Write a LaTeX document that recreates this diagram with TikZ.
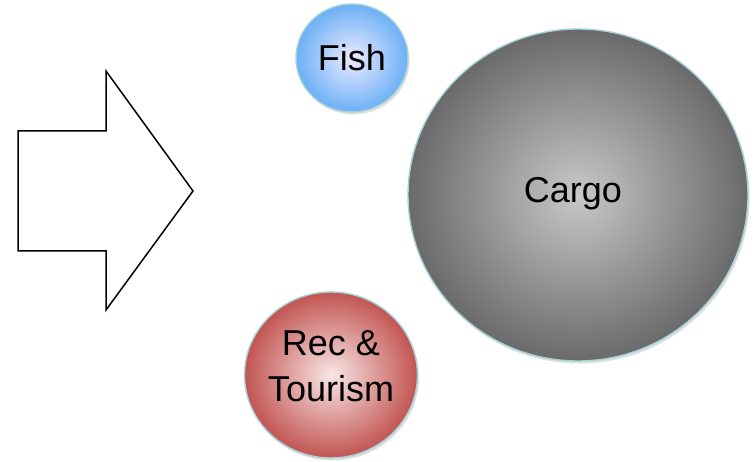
\documentclass[tikz,border=0pt]{standalone}
\usepackage{fontspec}
\setmainfont{Liberation Sans}
\usetikzlibrary{shapes.geometric,shadows}
\definecolor{rimcol}{HTML}{A6D3DA}
\definecolor{fishin}{HTML}{ECEAFF}
\definecolor{fishout}{HTML}{6CB0F6}
\definecolor{cargoin}{HTML}{C8C8C8}
\definecolor{cargoout}{HTML}{6A6A6A}
\definecolor{recin}{HTML}{F8E6E6}
\definecolor{recout}{HTML}{C25552}
\tikzset{
  bubble/.style={ellipse, draw=rimcol, line width=1.4pt, inner sep=0pt,
    drop shadow={opacity=0.25, shadow xshift=1.5pt, shadow yshift=-2.5pt}},
  bubtext/.style={font=\fontsize{36}{46}\selectfont, text=black, align=center, inner sep=0pt},
  bigarrow/.style={draw=black, line width=1.5pt, fill=white, line join=miter}
}
\begin{document}
\begin{tikzpicture}[x=1pt,y=1pt]
\useasboundingbox (0,0) rectangle (755,462);
% block arrow
\draw[bigarrow] (18,331) -- (106,331) -- (106,391) -- (193,271) -- (106,152) -- (106,211) -- (18,211) -- cycle;
% bubbles
\node[bubble, minimum width=112pt, minimum height=108pt, inner color=fishin, outer color=fishout] (fish) at (352,404) {};
\node[bubble, minimum width=340pt, minimum height=332pt, inner color=cargoin, outer color=cargoout] (cargo) at (578,267) {};
\node[bubble, minimum width=173pt, minimum height=166pt, inner color=recin, outer color=recout] (rec) at (331,87) {};
% labels
\node[bubtext] (fishtext) at (fish.center) {Fish};
\node[bubtext] (cargotext) at ([xshift=-5pt,yshift=1pt]cargo.center) {Cargo};
\node[bubtext] (rectext) at ([yshift=9pt]rec.center) {Rec \&\\Tourism};
\end{tikzpicture}
\end{document}
